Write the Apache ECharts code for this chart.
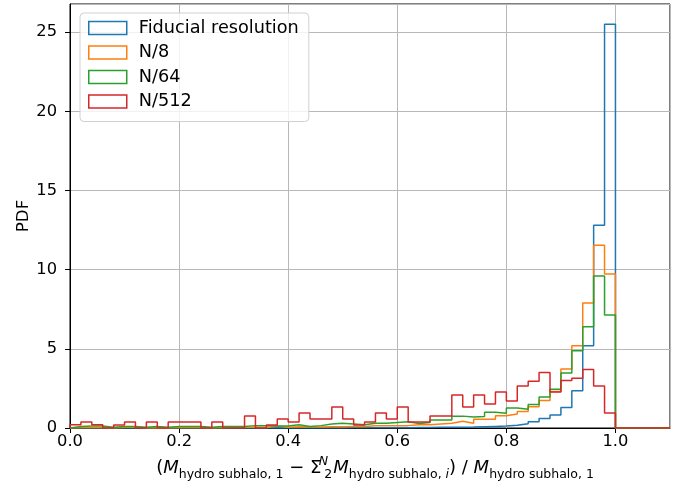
<!DOCTYPE html>
<html>
<head>
<meta charset="utf-8">
<script src="https://cdn.jsdelivr.net/npm/echarts@6/dist/echarts.min.js"></script>
<style>
html,body{margin:0;padding:0;background:#fff;}
#chart{width:686px;height:489px;}
</style>
</head>
<body>
<div id="chart"></div>
<script>
// Histogram bins: 50 bins of width 0.02 starting at 0.0
const BIN_START = 0.0;
const BIN_WIDTH = 0.02;
const X_MAX = 1.1;

const seriesNames = ['Fiducial resolution', 'N/8', 'N/64', 'N/512'];
const seriesColors = ['#1f77b4', '#ff7f0e', '#2ca02c', '#d62728'];

const fiducial = [0,0,0,0,0, 0,0,0,0,0, 0,0,0,0,0, 0,0,0,0,0, 0,0,0,0,0,
  0.01,0.01,0.01,0.02,0.02, 0.02,0.03,0.03,0.04,0.05, 0.05,0.06,0.08,0.1,0.12,
  0.17,0.27,0.4,0.6,0.82, 1.3,2.36,5.2,12.8,25.5];
const n8 = [0.02,0.02,0.02,0,0.03, 0.05,0,0.02,0,0.02, 0.02,0.02,0,0.02,0.03,
  0.03,0.05,0.03,0.12,0.05, 0.08,0.06,0.06,0.08,0.08, 0.1,0.1,0.14,0.14,0.15,
  0.15,0.2,0.2,0.25,0.3, 0.42,0.3,0.55,0.55,0.78, 0.88,1.05,1.34,1.74,2.3,
  3.72,5.2,7.9,11.55,9.72];
const n64 = [0.1,0.13,0.13,0.05,0.1, 0.1,0.05,0.1,0.05,0.1, 0.1,0.1,0.05,0.1,0.1,
  0.1,0.15,0.15,0.12,0.12, 0.2,0.1,0.15,0.25,0.3, 0.25,0.2,0.3,0.3,0.35,
  0.4,0.29,0.35,0.5,0.5, 0.75,0.7,0.72,1.0,0.93, 1.27,1.18,1.48,1.96,2.45,
  3.47,4.88,6.4,9.6,7.13];
const n512 = [0.2,0.38,0.2,0,0.19, 0.38,0,0.38,0,0.38, 0.38,0.38,0,0.38,0,
  0,0.76,0,0.19,0.57, 0.38,0.95,0.57,0.57,1.33, 0.57,0.19,0.38,0.95,0.57,
  1.33,0.38,0.38,0.76,0.76, 2.09,1.33,2.09,1.52,2.28, 1.71,2.66,2.95,3.5,2.28,
  3.0,3.15,3.7,2.66,0.95];

const seriesValues = [fiducial, n8, n64, n512];

const xTicks = [0.0, 0.2, 0.4, 0.6, 0.8, 1.0];
const yTicks = [0, 5, 10, 15, 20, 25];
const Y_MAX = 26.78;

function stepPoints(vals) {
  const pts = [[BIN_START, 0]];
  vals.forEach((v, i) => pts.push([BIN_START + i * BIN_WIDTH, v]));
  const end = BIN_START + vals.length * BIN_WIDTH;
  pts.push([end, 0]);
  pts.push([X_MAX, 0]);
  return pts;
}

const FONT = 'DejaVu Sans';
const chart = echarts.init(document.getElementById('chart'), null, {renderer: 'canvas'});

const xName = '{t|(}{it|M}{sub|hydro subhalo, 1}{t| − Σ}{sp| }{sup|N}{sub2|2}{it|M}{sub|hydro subhalo, }{subit|i}{t|) / }{it|M}{sub|hydro subhalo, 1}';

const option = {
  animation: false,
  backgroundColor: '#ffffff',
  grid: {left: 70, right: 16, top: 4, bottom: 61, show: true, borderColor: '#000', borderWidth: 1, backgroundColor: 'transparent'},
  legend: {
    left: 80, top: 13, orient: 'vertical',
    icon: 'rect', itemWidth: 38, itemHeight: 13, itemGap: 4.5,
    padding: [5, 10, 10, 8],
    backgroundColor: 'rgba(255,255,255,0.8)', borderColor: '#d0d0d0', borderWidth: 1, borderRadius: 4,
    textStyle: {fontFamily: FONT, fontSize: 17.7, color: '#000', lineHeight: 20, padding: [0, 0, 0, 7]},
    data: seriesNames.map((n, i) => ({name: n, itemStyle: {color: 'rgba(0,0,0,0)', borderColor: seriesColors[i], borderWidth: 1.5}}))
  },
  xAxis: {
    type: 'value', min: 0, max: X_MAX, interval: 0.2,
    name: xName, nameLocation: 'middle', nameGap: 27, nameMoveOverlap: false,
    nameTextStyle: {
      fontFamily: FONT, color: '#000', padding: [0, 0, 0, 10],
      rich: {
        t: {fontFamily: FONT, fontSize: 18, lineHeight: 26, verticalAlign: 'middle', color: '#000'},
        it: {fontFamily: FONT, fontSize: 18, fontStyle: 'italic', lineHeight: 26, verticalAlign: 'middle', color: '#000'},
        sp: {fontFamily: FONT, fontSize: 12, width: 2, lineHeight: 12, verticalAlign: 'middle'},
        sub: {fontFamily: FONT, fontSize: 12.5, lineHeight: 12, verticalAlign: 'bottom', color: '#000'},
        subit: {fontFamily: FONT, fontSize: 12.5, fontStyle: 'italic', lineHeight: 12, verticalAlign: 'bottom', color: '#000'},
        sup: {fontFamily: FONT, fontSize: 12.5, fontStyle: 'italic', lineHeight: 12, verticalAlign: 'top', width: 0, color: '#000'},
        sub2: {fontFamily: FONT, fontSize: 12.5, lineHeight: 12, verticalAlign: 'bottom', width: 10, color: '#000'}
      }
    },
    axisLine: {show: true, lineStyle: {color: '#000', width: 1}},
    axisTick: {show: true, length: 5, lineStyle: {color: '#000', width: 1}},
    axisLabel: {fontFamily: FONT, fontSize: 16.3, color: '#000', margin: 6, showMaxLabel: false,
      formatter: v => xTicks.some(t => Math.abs(t - v) < 1e-9) ? v.toFixed(1) : ''},
    splitLine: {show: true, lineStyle: {color: '#b8b8b8', width: 1}}
  },
  yAxis: {
    type: 'value', min: 0, max: Y_MAX, interval: 5,
    name: 'PDF', nameLocation: 'middle', nameGap: 38, nameRotate: 90, nameMoveOverlap: false,
    nameTextStyle: {fontFamily: FONT, fontSize: 16.7, color: '#000'},
    axisLine: {show: true, lineStyle: {color: '#000', width: 1}},
    axisTick: {show: true, length: 5, lineStyle: {color: '#000', width: 1}},
    axisLabel: {fontFamily: FONT, fontSize: 16.3, color: '#000', margin: 13, showMaxLabel: false,
      formatter: v => yTicks.some(t => Math.abs(t - v) < 1e-9) ? String(v) : ''},
    splitLine: {show: true, lineStyle: {color: '#b8b8b8', width: 1}}
  },
  series: seriesNames.map((n, i) => ({
    name: n, type: 'line', step: 'end', symbol: 'none', showSymbol: false,
    data: stepPoints(seriesValues[i]),
    color: seriesColors[i],
    lineStyle: {color: seriesColors[i], width: 1.5},
    z: 2 + i
  }))
};
chart.setOption(option);
</script>
</body>
</html>
